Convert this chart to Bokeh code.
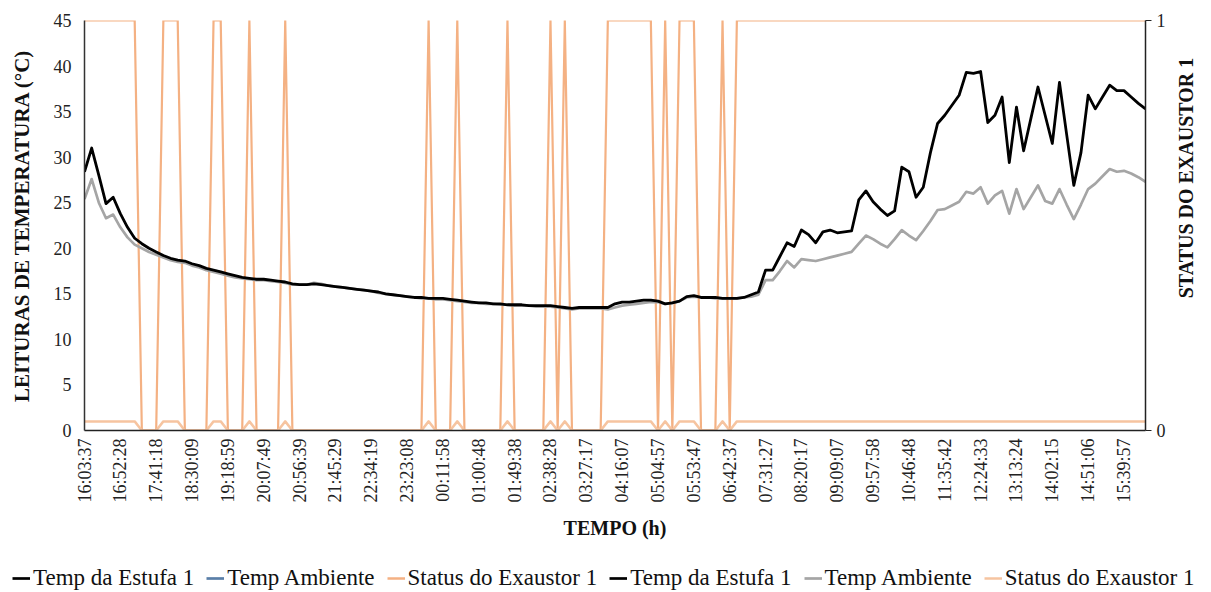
import math
from bokeh.plotting import figure
from bokeh.models import (Range1d, LinearAxis, Legend, LegendItem, FixedTicker,
                          ColumnDataSource, Label)
from bokeh.layouts import column, row
from bokeh.embed import file_html
from bokeh.resources import INLINE

# ---------------- data ----------------
time_labels = ["16:03:37", "16:52:28", "17:41:18", "18:30:09", "19:18:59", "20:07:49",
               "20:56:39", "21:45:29", "22:34:19", "23:23:08", "00:11:58", "01:00:48",
               "01:49:38", "02:38:28", "03:27:17", "04:16:07", "05:04:57", "05:53:47",
               "06:42:37", "07:31:27", "08:20:17", "09:09:07", "09:57:58", "10:46:48",
               "11:35:42", "12:24:33", "13:13:24", "14:02:15", "14:51:06", "15:39:57"]

temp_estufa = [
    28.4, 31.0, 28.0, 24.9, 25.6, 23.8, 22.3, 21.1, 20.5, 20.0,
    19.6, 19.2, 18.9, 18.7, 18.6, 18.3, 18.1, 17.8, 17.6, 17.4,
    17.2, 17.0, 16.8, 16.7, 16.6, 16.6, 16.5, 16.4, 16.3, 16.1,
    16.0, 16.0, 16.1, 16.0, 15.9, 15.8, 15.7, 15.6, 15.5, 15.4,
    15.3, 15.2, 15.0, 14.9, 14.8, 14.7, 14.6, 14.6, 14.5, 14.5,
    14.5, 14.4, 14.3, 14.2, 14.1, 14.0, 14.0, 13.9, 13.9, 13.8,
    13.8, 13.8, 13.7, 13.7, 13.7, 13.7, 13.6, 13.5, 13.4, 13.5,
    13.5, 13.5, 13.5, 13.5, 13.9, 14.1, 14.1, 14.2, 14.3, 14.3,
    14.2, 13.9, 14.0, 14.2, 14.7, 14.8, 14.6, 14.6, 14.6, 14.5,
    14.5, 14.5, 14.6, 14.9, 15.2, 17.6, 17.6, 19.1, 20.6, 20.2,
    22.0, 21.5, 20.6, 21.8, 22.0, 21.7, 21.8, 21.9, 25.3, 26.3,
    25.1, 24.3, 23.6, 24.1, 28.9, 28.4, 25.6, 26.7, 30.5, 33.7,
    34.6, 35.7, 36.8, 39.3, 39.2, 39.4, 33.8, 34.6, 36.6, 29.4,
    35.5, 30.7, 34.2, 37.7, 34.6, 31.5, 38.2, 32.5, 26.9, 30.5,
    36.8, 35.3, 36.6, 37.9, 37.3, 37.3, 36.6, 35.9, 35.3]

temp_ambiente = [
    25.4, 27.6, 25.0, 23.3, 23.7, 22.3, 21.2, 20.4, 20.0, 19.6,
    19.3, 19.0, 18.7, 18.5, 18.4, 18.1, 17.9, 17.6, 17.4, 17.2,
    17.0, 16.8, 16.7, 16.6, 16.5, 16.5, 16.4, 16.3, 16.2, 16.0,
    16.0, 16.0, 16.2, 16.1, 15.9, 15.8, 15.7, 15.6, 15.5, 15.4,
    15.3, 15.1, 15.0, 14.9, 14.8, 14.7, 14.6, 14.5, 14.5, 14.4,
    14.4, 14.3, 14.2, 14.1, 14.0, 14.0, 13.9, 13.9, 13.8, 13.8,
    13.7, 13.7, 13.7, 13.6, 13.6, 13.6, 13.5, 13.4, 13.3, 13.4,
    13.4, 13.4, 13.4, 13.3, 13.5, 13.7, 13.8, 13.9, 14.0, 14.1,
    14.1, 13.9, 14.0, 14.2, 14.6, 14.7, 14.6, 14.6, 14.5, 14.5,
    14.5, 14.5, 14.6, 14.7, 14.9, 16.5, 16.5, 17.5, 18.6, 17.9,
    18.8, 18.7, 18.6, 18.8, 19.0, 19.2, 19.4, 19.6, 20.5, 21.4,
    21.0, 20.5, 20.1, 21.0, 22.0, 21.4, 20.9, 21.9, 23.0, 24.2,
    24.3, 24.7, 25.1, 26.2, 26.0, 26.7, 24.9, 25.8, 26.3, 23.8,
    26.5, 24.3, 25.6, 26.9, 25.2, 24.9, 26.5, 24.8, 23.2, 24.8,
    26.5, 27.1, 27.9, 28.7, 28.4, 28.5, 28.2, 27.8, 27.3]

status_exaustor = [
    1, 1, 1, 1, 1, 1, 1, 1, 0, 0,
    0, 1, 1, 1, 0, 0, 0, 0, 1, 1,
    0, 0, 0, 1, 0, 0, 0, 0, 1, 0,
    0, 0, 0, 0, 0, 0, 0, 0, 0, 0,
    0, 0, 0, 0, 0, 0, 0, 0, 1, 0,
    0, 0, 1, 0, 0, 0, 0, 0, 0, 1,
    0, 0, 0, 0, 0, 1, 0, 1, 0, 0,
    0, 0, 0, 1, 1, 1, 1, 1, 1, 1,
    0, 1, 0, 1, 1, 1, 0, 0, 0, 1,
    0, 1, 1, 1, 1, 1, 1, 1, 1, 1,
    1, 1, 1, 1, 1, 1, 1, 1, 1, 1,
    1, 1, 1, 1, 1, 1, 1, 1, 1, 1,
    1, 1, 1, 1, 1, 1, 1, 1, 1, 1,
    1, 1, 1, 1, 1, 1, 1, 1, 1, 1,
    1, 1, 1, 1, 1, 1, 1, 1, 1]

# ---------------- styles ----------------
FONT = "Liberation Serif"
C_EST = "black"
C_AMB_1 = "#5A7FA8"
C_ST_1 = "#F4B183"
C_AMB_2 = "#A5A5A5"
C_ST_2 = "#F6C4A0"

N = len(temp_estufa)
idx = list(range(N))
src = ColumnDataSource(dict(x=idx, estufa=temp_estufa, amb=temp_ambiente, st=status_exaustor))

# ---------------- main chart ----------------
p = figure(frame_width=1061, frame_height=410, output_backend="svg", toolbar_location=None,
           x_range=Range1d(0, N - 1), y_range=Range1d(0, 45),
           min_border_left=84, min_border_right=26, min_border_top=20, min_border_bottom=115,
           background_fill_color="white", border_fill_color="white")
p.outline_line_color = None
p.xgrid.visible = False
p.ygrid.visible = False
p.extra_y_ranges = {"right": Range1d(0, 1)}

# first set: secondary (0-1) scale
p.line("x", "estufa", source=src, y_range_name="right", color=C_EST, line_width=2.7)
p.line("x", "amb", source=src, y_range_name="right", color=C_AMB_1, line_width=2.7)
p.line("x", "st", source=src, y_range_name="right", color=C_ST_1, line_width=2.2, line_join="round")
# second set: primary (0-45) scale
p.line("x", "st", source=src, color=C_ST_2, line_width=2.5, line_join="round")
p.line("x", "amb", source=src, color=C_AMB_2, line_width=2.7, line_join="round")
p.line("x", "estufa", source=src, color=C_EST, line_width=2.8, line_join="round")

# x axis
xa = p.xaxis[0]
xa.ticker = FixedTicker(ticks=list(range(0, N, 5))[:len(time_labels)])
xa.major_label_overrides = {i * 5: lab for i, lab in enumerate(time_labels)}
xa.major_label_orientation = math.pi / 2
xa.major_tick_out = 0
xa.major_tick_in = 0
xa.minor_tick_line_color = None
xa.major_label_standoff = 8
xa.major_label_text_font = FONT
xa.major_label_text_font_size = "18px"
xa.major_label_text_color = "#222222"
xa.axis_line_color = "#222222"
xa.axis_line_width = 1.5
xa.axis_label = "TEMPO (h)"
xa.axis_label_text_font = FONT
xa.axis_label_text_font_style = "bold"
xa.axis_label_text_font_size = "20px"
xa.axis_label_text_color = "#111111"
xa.axis_label_standoff = 11

# left axis
ya = p.yaxis[0]
ya.ticker = FixedTicker(ticks=list(range(0, 46, 5)))
ya.major_tick_out = 0
ya.major_tick_in = 0
ya.minor_tick_line_color = None
ya.major_label_standoff = 13
ya.major_label_text_font = FONT
ya.major_label_text_font_size = "18px"
ya.major_label_text_color = "#222222"
ya.axis_line_color = "#333333"
ya.axis_line_width = 1.5
ya.axis_label = "LEITURAS DE TEMPERATURA (°C)"
ya.axis_label_text_font = FONT
ya.axis_label_text_font_style = "bold"
ya.axis_label_text_font_size = "21px"
ya.axis_label_text_color = "#111111"
ya.axis_label_standoff = 17

# right axis
ra = LinearAxis(y_range_name="right", ticker=FixedTicker(ticks=[0, 1]))
ra.major_tick_out = 6
ra.major_tick_in = 0
ra.major_tick_line_color = "#222222"
ra.minor_tick_line_color = None
ra.major_label_standoff = 5
ra.major_label_text_font = FONT
ra.major_label_text_font_size = "18px"
ra.major_label_text_color = "#222222"
ra.axis_line_color = "#222222"
ra.axis_line_width = 1.5
p.add_layout(ra, "right")

# ---------------- right axis title (bottom-to-top) ----------------
tfig = figure(width=28, height=450, output_backend="svg", toolbar_location=None,
              x_range=Range1d(0, 1), y_range=Range1d(0, 1), min_border=0,
              x_axis_location=None, y_axis_location=None,
              background_fill_color="white", border_fill_color="white")
tfig.outline_line_color = None
tfig.xgrid.visible = False
tfig.ygrid.visible = False
tfig.add_layout(Label(x=0.5, y=0.5, text="STATUS DO EXAUSTOR 1", angle=math.pi / 2,
                      text_align="center", text_baseline="middle", text_font=FONT,
                      text_font_style="bold", text_font_size="20px", text_color="#111111"))

# ---------------- legend strip ----------------
lfig = figure(width=1199, height=47, output_backend="svg", toolbar_location=None,
              x_range=Range1d(0, N - 1), y_range=Range1d(-3, -2), min_border=0,
              x_axis_location=None, y_axis_location=None,
              background_fill_color="white", border_fill_color="white")
lfig.outline_line_color = None
lfig.xgrid.visible = False
lfig.ygrid.visible = False
# same series, outside this strip's range (only their legend swatches show)
l1 = lfig.line("x", "estufa", source=src, color=C_EST, line_width=2.7)
l2 = lfig.line("x", "amb", source=src, color=C_AMB_1, line_width=2.7)
l3 = lfig.line("x", "st", source=src, color=C_ST_1, line_width=2.5)
l4 = lfig.line("x", "estufa", source=src, color=C_EST, line_width=2.7)
l5 = lfig.line("x", "amb", source=src, color=C_AMB_2, line_width=2.7)
l6 = lfig.line("x", "st", source=src, color=C_ST_2, line_width=2.5)

legend = Legend(items=[
    LegendItem(label="Temp da Estufa 1", renderers=[l1]),
    LegendItem(label="Temp Ambiente", renderers=[l2]),
    LegendItem(label="Status do Exaustor 1", renderers=[l3]),
    LegendItem(label="Temp da Estufa 1", renderers=[l4]),
    LegendItem(label="Temp Ambiente", renderers=[l5]),
    LegendItem(label="Status do Exaustor 1", renderers=[l6]),
], orientation="horizontal", location=(12, 1))
legend.label_text_font = FONT
legend.label_text_font_size = "23px"
legend.label_text_color = "#111111"
legend.glyph_width = 18
legend.glyph_height = 20
legend.label_height = 20
legend.label_standoff = 3
legend.spacing = 12
legend.padding = 0
legend.margin = 0
legend.border_line_color = None
legend.background_fill_alpha = 0
lfig.add_layout(legend)

layout = column(row(p, tfig), lfig)
open("out.html", "w").write(file_html(layout, INLINE))
